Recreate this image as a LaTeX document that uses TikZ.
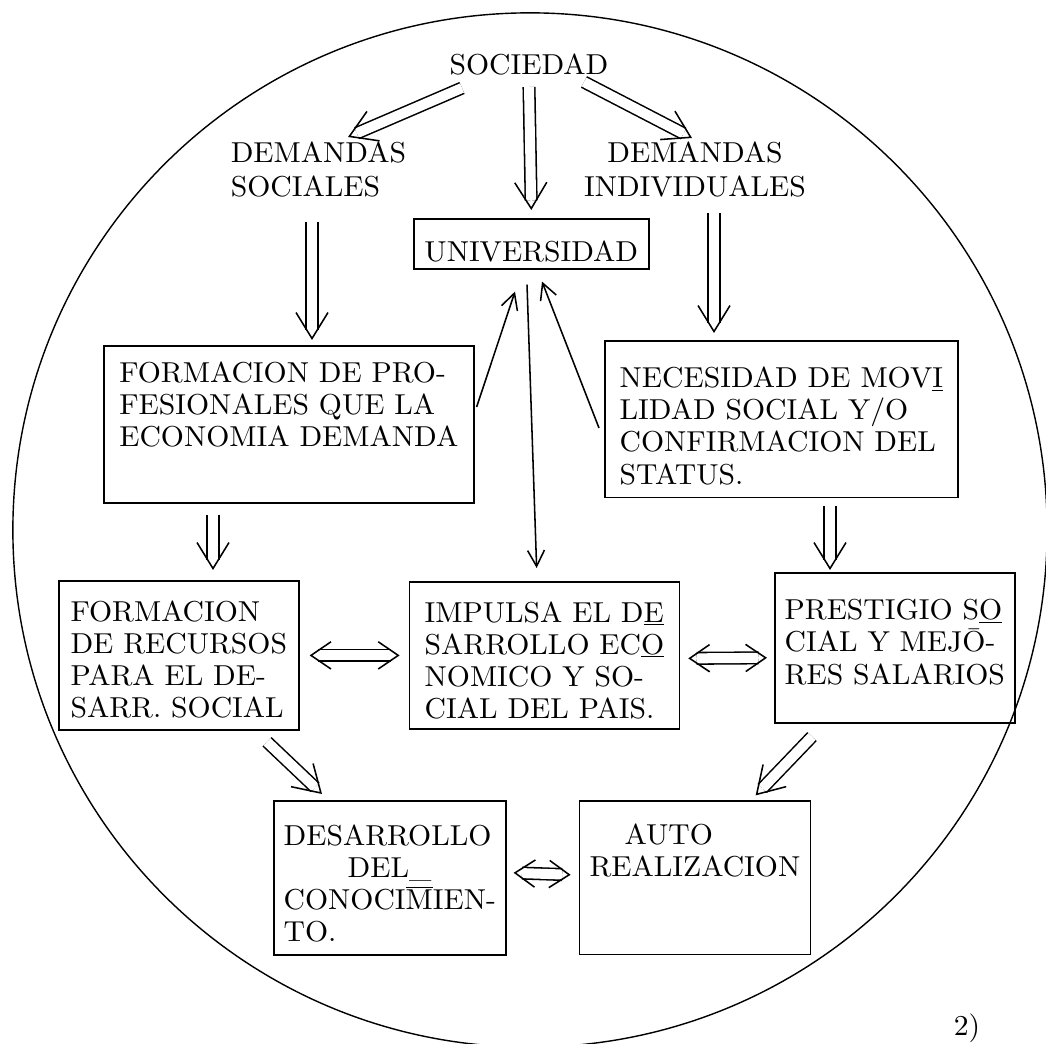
\documentclass[tikz,border=0pt]{standalone}
\usepackage{fontspec}
\setmainfont{lmroman10-regular.otf}[FakeStretch=1.03]
\usetikzlibrary{arrows.meta, positioning}

\begin{document}
\begin{tikzpicture}[
        x=0.025cm, y=-0.025cm, % one unit = one pixel of the scan
        line width=1.1pt,
        every node/.style={font=\fontsize{20.5}{22.8}\selectfont, inner sep=0pt},
        box/.style n args={3}{draw, anchor=north west, align=left, minimum width=#1, text height=#2, text depth=#3},
        heading/.style={align=left, font=\fontsize{20.5}{24.2}\selectfont},
        arr/.style={-{Straight Barb[length=0.4cm, width=0.42cm]}}, % thin arrow
        dbl/.style={draw=white, -{Straight Barb[length=0.65cm, width=0.8cm, color=black]},
          preaction={draw=black, double=white, double distance=0.25cm, arrows=-, shorten >=0.24cm}},
        dblboth/.style={draw=white, {Straight Barb[length=0.5cm, width=0.68cm, color=black]}-{Straight Barb[length=0.5cm, width=0.68cm, color=black]},
          preaction={draw=black, double=white, double distance=0.25cm, arrows=-, shorten >=0.21cm, shorten <=0.21cm}}
      ]
      \useasboundingbox (0,0) rectangle (1046,1044);

      % Circle
      \draw[line width=1pt] (530,530) circle [radius=12.925cm];

      % Nodes
      \node (soc) at (529,75) [anchor=base] {SOCIEDAD};
      \node (demsoc) at (230,197) [anchor=base west, heading] {DEMANDAS\\SOCIALES};
      \node (demind) at (695,197) [anchor=base, heading, align=center] {DEMANDAS\\INDIVIDUALES};
      \node (univ) at (413,218) [box={5.875cm}{1.075cm}{0.175cm}, align=center] {UNIVERSIDAD};
      \node (fprof) at (103,345) [box={9.25cm}{2.525cm}{1.4cm}] {FORMACION DE PRO-\\FESIONALES QUE LA\\ECONOMIA DEMANDA};
      \node (neces) at (604,340) [box={8.825cm}{3.58cm}{0.34cm}] {NECESIDAD DE MOV\underline{I}\\LIDAD SOCIAL Y/O\\CONFIRMACION DEL\\STATUS.};
      \node (recur) at (58,580) [box={6cm}{3.41cm}{0.32cm}] {FORMACION\\DE RECURSOS\\PARA EL DE-\\SARR. SOCIAL};
      \node (impul) [box={6.75cm}{3.41cm}{0.27cm}, right=2.725cm of recur] {IMPULSA EL D\underline{E}\\SARROLLO EC\underline{O}\\NOMICO Y SO-\\CIAL DEL PAIS.};
      \node (prest) at (774,572) [box={6cm}{2.78cm}{0.97cm}] {PRESTIGIO S\underline{O}\\CIAL Y MEJ\=O-\\RES SALARIOS};
      \node (desar) at (273,800) [box={5.8cm}{3.51cm}{0.34cm}] {DESARROLLO\\\hspace*{1.6cm}DEL\_\\CONOCI$\overline{\mbox{M}}$IEN-\\TO.};
      \node (auto) [box={5.775cm}{1.88cm}{1.95cm}, right=1.8cm of desar] {\hspace*{0.875cm}AUTO\\REALIZACION};
      \node (page) at (967,1035) [anchor=base] {2)};

      % Arrows
      \draw[dbl] ([shift={(-67,13)}]soc.base) -- ([shift={(118,-60)}]demsoc.base west);
      \draw[dbl] ([shift={(0,12)}]soc.base) -- ([shift={(0,-8)}]univ.north);
      \draw[dbl] ([shift={(55,7)}]soc.base) -- ([shift={(-3,-59)}]demind.base);
      \draw[dbl] ([shift={(82,25)}]demsoc.base west) -- ([shift={(209,-5)}]fprof.north west);
      \draw[dbl] ([shift={(19,16)}]demind.base) -- ([shift={(110,-7)}]neces.north west);
      \draw[arr] ([shift={(2,62)}]fprof.north east) -- ([shift={(102,22)}]univ.south west);
      \draw[arr] ([shift={(-5,88)}]neces.north west) -- ([shift={(129,12)}]univ.south west);
      \draw[arr] ([shift={(114,15)}]univ.south west) -- ([shift={(128,-13)}]impul.north west);
      \draw[dbl] ([shift={(110,11)}]fprof.south west) -- ([shift={(155,-10)}]recur.north west);
      \draw[dbl] ([shift={(226,8)}]neces.south west) -- ([shift={(56,-2)}]prest.north west);
      \draw[dblboth] ([shift={(10,0)}]recur.east) -- ([shift={(-9,0)}]impul.west);
      \draw[dblboth] ([shift={(8,3)}]impul.east) -- ([shift={(-7,10)}]prest.west);
      \draw[dbl] ([shift={(209,11)}]recur.south west) -- ([shift={(49,-6)}]desar.north west);
      \draw[dbl] ([shift={(38,13)}]prest.south west) -- ([shift={(177,-5)}]auto.north west);
      \draw[dblboth] ([shift={(7,-5)}]desar.east) -- ([shift={(-8,-3)}]auto.west);

    \end{tikzpicture}
\end{document}
